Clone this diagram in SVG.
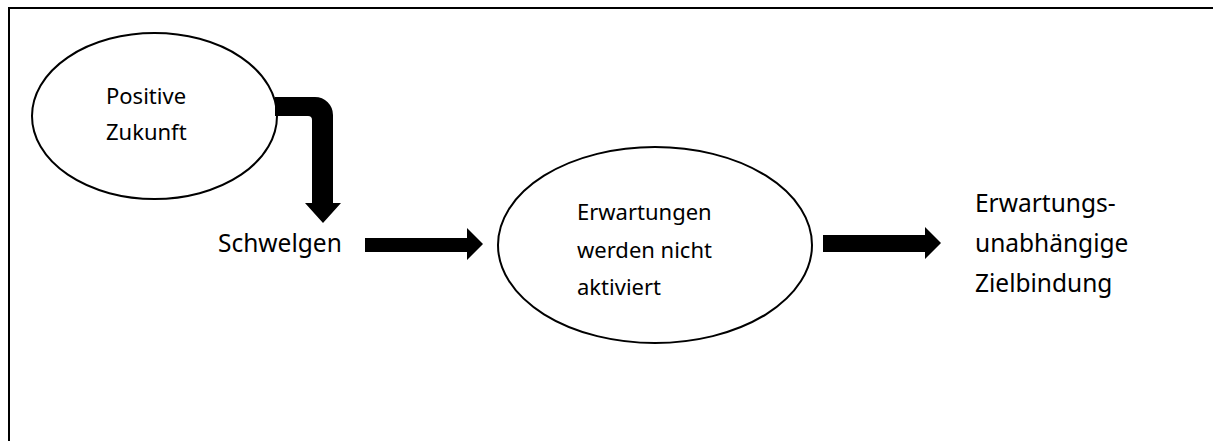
<svg xmlns="http://www.w3.org/2000/svg" width="1213" height="441" viewBox="0 0 1213 441">
  <style>
    .frame { fill: none; stroke: #000; stroke-width: 2; }
    .node { fill: #fff; stroke: #000; stroke-width: 2; }
    .arrow { fill: #000; stroke: none; }
    .label { font-family: "Noto Sans", "Open Sans", sans-serif; fill: #000; }
    .small { font-size: 22px; }
    .large { font-size: 24.5px; }
  </style>

  <rect width="1213" height="441" fill="#fff"/>
  <path class="frame" d="M9,441 V8 H1213"/>

  <g id="node-positive-zukunft">
    <ellipse class="node" cx="154.5" cy="116" rx="122.5" ry="83"/>
    <text class="label small" x="106" y="104">Positive</text>
    <text class="label small" x="106" y="140">Zukunft</text>
  </g>

  <g id="node-schwelgen">
    <text class="label large" x="218" y="252">Schwelgen</text>
  </g>

  <g id="node-erwartungen">
    <ellipse class="node" cx="655" cy="245" rx="157" ry="98"/>
    <text class="label small" x="577" y="220">Erwartungen</text>
    <text class="label small" x="577" y="258">werden nicht</text>
    <text class="label small" x="577" y="295">aktiviert</text>
  </g>

  <g id="node-zielbindung">
    <text class="label large" x="975" y="212">Erwartungs-</text>
    <text class="label large" x="975" y="252">unabhängige</text>
    <text class="label large" x="975" y="292">Zielbindung</text>
  </g>

  <g id="connectors">
    <!-- bent block arrow: Positive Zukunft -> Schwelgen -->
    <path class="arrow" d="M275,97 H315 A18,18 0 0 1 333,115 V203 H341 L323,223 L305,203 H312 V120 A4,4 0 0 0 308,116 H275 Z"/>
    <!-- block arrow: Schwelgen -> Erwartungen -->
    <path class="arrow" d="M365,238 H467 V228 L483,244 L467,260 V252 H365 Z"/>
    <!-- block arrow: Erwartungen -> Zielbindung -->
    <path class="arrow" d="M823,235 H925 V227 L941,243 L925,259 V252 H823 Z"/>
  </g>
</svg>
